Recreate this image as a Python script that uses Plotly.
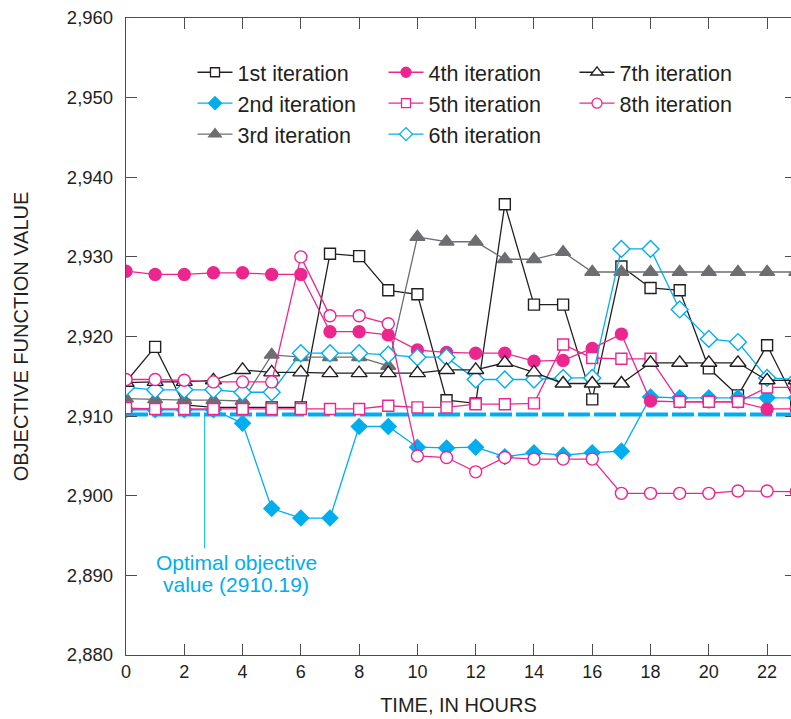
import plotly.graph_objects as go

hours = list(range(0, 24))

iter1 = [2914.3, 2918.7, 2911.4, 2911.1, 2911.1, 2911.1, 2911.1, 2930.4, 2930.1, 2925.8, 2925.3, 2912.0,
         2911.6, 2936.6, 2924.0, 2924.0, 2912.1, 2928.8, 2926.1, 2925.8, 2916.0, 2912.6, 2918.9, 2911.6]
iter2 = [2910.8, 2910.8, 2910.8, 2910.8, 2909.1, 2898.4, 2897.2, 2897.2, 2908.7, 2908.7, 2906.1, 2906.0,
         2906.1, 2904.9, 2905.4, 2905.1, 2905.4, 2905.6, 2912.4, 2912.3, 2912.3, 2912.3, 2912.3, 2912.3]
iter3 = [2912.2, 2912.1, 2912.0, 2912.0, 2911.9, 2917.7, 2917.4, 2917.4, 2917.4, 2916.3, 2932.5, 2931.9,
         2931.9, 2929.7, 2929.7, 2930.6, 2928.1, 2928.1, 2928.1, 2928.1, 2928.1, 2928.1, 2928.1, 2928.1]
iter4 = [2928.2, 2927.8, 2927.8, 2928.0, 2928.0, 2927.8, 2927.8, 2920.6, 2920.6, 2920.2, 2918.3, 2918.0,
         2917.9, 2917.9, 2916.9, 2917.0, 2918.5, 2920.3, 2911.9, 2911.8, 2911.8, 2911.8, 2910.9, 2910.9]
iter5 = [2911.0, 2910.9, 2910.9, 2910.9, 2910.9, 2910.9, 2910.9, 2910.9, 2910.9, 2911.3, 2911.1, 2911.1,
         2911.5, 2911.5, 2911.6, 2919.0, 2917.3, 2917.2, 2917.2, 2911.8, 2911.8, 2911.8, 2913.6, 2913.6]
iter6 = [2913.6, 2913.3, 2913.3, 2913.3, 2913.0, 2913.0, 2917.9, 2917.9, 2917.9, 2917.7, 2917.4, 2917.4,
         2914.6, 2914.6, 2914.6, 2914.8, 2914.8, 2931.0, 2931.0, 2923.4, 2919.7, 2919.3, 2914.8, 2914.6]
iter7 = [2914.2, 2914.3, 2914.3, 2914.5, 2915.8, 2915.5, 2915.5, 2915.4, 2915.4, 2915.4, 2915.4, 2915.8,
         2915.8, 2916.7, 2915.5, 2914.1, 2914.1, 2914.1, 2916.7, 2916.7, 2916.7, 2916.7, 2914.5, 2914.5]
iter8 = [2914.6, 2914.6, 2914.5, 2914.3, 2914.3, 2914.3, 2930.0, 2922.6, 2922.6, 2921.6, 2905.0, 2904.8,
         2903.0, 2904.8, 2904.6, 2904.6, 2904.6, 2900.3, 2900.3, 2900.3, 2900.3, 2900.6, 2900.6, 2900.5]

series_names = ["1st iteration", "2nd iteration", "3rd iteration", "4th iteration",
                "5th iteration", "6th iteration", "7th iteration", "8th iteration"]
series_values = [iter1, iter2, iter3, iter4, iter5, iter6, iter7, iter8]

optimal_value = 2910.19
optimal_x = [0, 23]
callout_x = 2.7
callout_y_end = 2893.4
callout_lines = ["Optimal objective", "value (2910.19)"]
callout_text_x = 3.78
callout_text_y = [2891.6, 2888.8]

x_ticks = list(range(0, 23, 2))
y_ticks = list(range(2880, 2961, 10))
y_tick_labels = [f"{v:,}" for v in y_ticks]

BLACK = "#231f20"
GRAY = "#6d6e71"
PINK = "#ec268f"
BLUE = "#00aeef"
FONT = "Liberation Sans, Arial, sans-serif"

styles = [
    dict(color=BLACK, symbol="square", fill="white", size=11, lsize=9),
    dict(color=BLUE, symbol="diamond", fill=BLUE, size=12, lsize=10),
    dict(color=GRAY, symbol="triangle-up", fill=GRAY, size=13, lsize=11),
    dict(color=PINK, symbol="circle", fill=PINK, size=12, lsize=10),
    dict(color=PINK, symbol="square", fill="white", size=11, lsize=9),
    dict(color=BLUE, symbol="diamond", fill="white", size=13, lsize=10),
    dict(color=BLACK, symbol="triangle-up", fill="white", size=14, lsize=11),
    dict(color=PINK, symbol="circle", fill="white", size=12, lsize=10),
]
legend_ranks = [1, 4, 7, 2, 5, 8, 3, 6]

fig = go.Figure()

# optimal objective value line
fig.add_trace(go.Scatter(
    x=optimal_x, y=[optimal_value, optimal_value], mode="lines",
    line=dict(color=BLUE, width=4, dash="22px,4px"),
    showlegend=False, hoverinfo="skip"))
# callout line
fig.add_trace(go.Scatter(
    x=[callout_x, callout_x], y=[optimal_value, callout_y_end], mode="lines",
    line=dict(color=BLUE, width=1), showlegend=False, hoverinfo="skip"))

for name, vals, st in zip(series_names, series_values, styles):
    fig.add_trace(go.Scatter(
        x=hours, y=vals, mode="lines+markers", name=name, showlegend=False,
        line=dict(color=st["color"], width=1.3),
        marker=dict(symbol=st["symbol"], size=st["size"], color=st["fill"],
                    line=dict(color=st["color"], width=1.4))))

# legend entries (smaller symbols, as in the reference legend)
for name, st, rk in zip(series_names, styles, legend_ranks):
    fig.add_trace(go.Scatter(
        x=[None], y=[None], mode="lines+markers", name=name, legendrank=rk,
        line=dict(color=st["color"], width=1.3),
        marker=dict(symbol=st["symbol"], size=st["lsize"], color=st["fill"],
                    line=dict(color=st["color"], width=1.3))))

# invisible trace for right-side ticks
fig.add_trace(go.Scatter(x=[0], y=[2880], yaxis="y2", mode="markers",
                         marker=dict(opacity=0), showlegend=False, hoverinfo="skip"))

for txt, ty in zip(callout_lines, callout_text_y):
    fig.add_annotation(x=callout_text_x, y=ty, xref="x", yref="y", yanchor="middle",
                       xanchor="center", text=txt, showarrow=False,
                       font=dict(family=FONT, size=21, color=BLUE))

axis_line = "#4d4d4d"
fig.update_layout(
    width=791, height=719,
    margin=dict(l=126, r=0, t=18, b=64),
    paper_bgcolor="white", plot_bgcolor="white",
    font=dict(family=FONT, color=BLACK),
    xaxis=dict(range=[0, 22.82], tickvals=x_ticks, ticks="inside", ticklen=11,
               tickcolor=axis_line, showline=True, linecolor=axis_line, linewidth=1.3,
               mirror="ticks", showgrid=False, zeroline=False,
               tickfont=dict(size=18, color=BLACK),
               title=dict(text="TIME, IN HOURS", font=dict(size=20, color=BLACK), standoff=17)),
    yaxis=dict(range=[2880, 2960], tickvals=y_ticks, ticktext=y_tick_labels, ticks="inside",
               ticklen=11, tickcolor=axis_line, showline=True, linecolor=axis_line, linewidth=1.3,
               showgrid=False, zeroline=False, ticklabelstandoff=8,
               tickfont=dict(size=18.5, color=BLACK),
               title=dict(text="OBJECTIVE FUNCTION VALUE", font=dict(size=20, color=BLACK), standoff=32)),
    yaxis2=dict(range=[2880, 2960], overlaying="y", side="right", tickvals=y_ticks,
                ticks="inside", ticklen=6, tickcolor=axis_line, showticklabels=False,
                showline=False, showgrid=False, zeroline=False),
    legend=dict(orientation="h", x=0.1, y=0.947, xanchor="left", yanchor="top",
                entrywidth=141, font=dict(size=21.5, color=BLACK), bgcolor="rgba(0,0,0,0)",
                traceorder="normal", itemwidth=35, tracegroupgap=0),
)

fig.write_html("out.html")
